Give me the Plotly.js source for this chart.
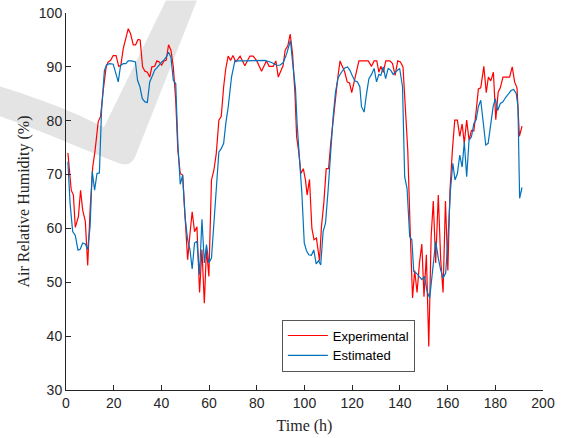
<!DOCTYPE html>
<html>
<head>
<meta charset="utf-8">
<script src="https://cdn.plot.ly/plotly-3.0.1.min.js"></script>
<style>html,body{margin:0;padding:0;background:#fff;}#chart{width:563px;height:438px;}</style>
</head>
<body>
<div id="chart"></div>
<script>
// Experimental series (time in h, relative humidity in %)
const expX = [0.8,2.2,3.1,3.9,5.2,6.1,7.0,8.1,9.1,10.1,11.2,12.2,13.5,14.5,15.6,16.8,17.7,18.7,19.8,21.0,22.1,23.0,24.0,25.1,26.1,27.1,28.2,29.2,30.2,31.1,32.1,33.1,34.1,35.1,36.0,37.2,38.1,39.1,40.1,41.1,42.0,43.0,44.0,45.0,46.0,46.9,47.9,48.9,49.9,51.0,52.0,52.9,53.9,54.9,56.0,57.0,58.0,58.9,59.9,61.0,62.0,63.0,64.1,65.1,66.1,67.0,68.0,69.0,70.0,71.2,73.0,75.0,77.1,78.5,80.0,82.0,84.0,85.2,86.9,88.0,89.0,90.0,91.0,91.9,93.0,94.0,95.0,96.0,96.7,97.5,98.5,99.5,100.4,101.1,102.1,103.1,104.0,105.0,106.3,107.1,108.1,109.1,110.1,111.0,112.0,113.0,113.9,114.9,115.9,116.9,117.9,118.9,119.8,120.8,121.8,122.8,124.6,126.7,128.1,129.2,130.3,131.2,132.0,133.0,134.1,135.8,136.9,138.0,139.1,140.2,141.3,142.3,143.3,144.3,145.3,146.2,147.2,148.2,149.2,150.1,151.1,152.1,153.1,154.0,155.0,156.1,157.1,158.1,159.1,160.1,161.0,162.0,163.0,164.1,165.1,166.1,167.0,168.0,169.0,170.0,171.0,172.0,172.9,173.9,175.2,176.2,177.1,178.1,179.2,180.2,181.2,182.1,183.2,186.0,187.1,188.1,189.1,190.1,191.2];
const expY = [74.0,67.1,66.2,60.2,62.2,67.1,63.4,61.3,53.1,63.4,71.4,74.5,79.8,80.8,85.6,89.9,90.9,91.2,92.1,92.1,90.1,90.3,93.4,95.5,97.1,96.1,94.1,94.1,95.1,95.0,90.0,89.2,89.0,88.1,90.0,90.1,91.1,90.9,90.3,91.1,91.2,94.1,93.1,90.0,83.8,74.5,70.2,69.9,63.4,54.2,59.1,63.1,59.4,60.3,48.1,56.1,46.1,56.3,51.1,69.0,70.8,73.9,80.1,80.8,86.3,89.7,92.0,91.2,92.1,90.9,92.0,90.2,92.0,92.0,91.1,89.2,91.1,90.1,90.1,91.1,88.1,89.0,90.2,93.1,93.9,96.1,92.4,85.0,77.0,74.5,70.2,71.1,69.0,66.2,69.1,60.0,57.9,58.2,54.0,60.3,64.7,71.1,71.1,75.8,80.1,83.8,87.8,91.1,90.0,89.0,87.2,87.0,85.2,87.2,89.4,91.1,91.1,91.1,90.1,91.1,91.1,89.0,90.1,89.0,91.1,91.1,90.6,88.4,91.1,90.9,90.0,81.9,74.5,59.7,47.1,52.2,48.1,53.6,57.1,47.3,55.1,38.1,58.5,65.1,53.6,66.2,54.2,48.1,65.1,52.2,67.1,74.5,80.1,80.1,77.1,79.4,75.8,80.1,76.4,78.2,78.1,81.9,85.9,86.1,90.1,85.2,88.1,87.4,89.0,80.2,85.3,86.1,88.1,88.1,90.0,87.2,86.1,77.1,79.0];

// Estimated series
const estX = [0.8,1.7,2.8,3.9,5.0,5.9,7.0,8.1,9.1,10.1,11.0,12.0,13.0,14.0,14.9,16.1,17.0,18.4,19.8,21.0,21.9,22.9,24.0,25.1,26.1,27.5,29.1,30.0,31.0,32.0,33.1,34.1,35.1,36.0,37.2,38.1,39.1,40.1,41.1,42.0,43.0,44.0,45.0,46.0,46.9,47.9,48.9,49.9,51.0,52.0,52.9,53.9,54.9,56.0,57.0,58.0,58.9,59.9,61.0,62.0,63.1,64.1,65.1,66.1,67.0,68.0,69.4,70.8,75.0,80.6,83.4,86.2,88.3,89.7,91.1,92.5,94.1,95.2,96.2,96.9,97.9,98.9,99.9,100.8,101.8,102.9,103.9,104.9,105.9,106.8,107.8,108.8,109.9,111.0,112.0,113.0,114.1,115.5,116.9,118.0,119.0,120.0,121.1,122.2,123.2,123.9,125.0,126.0,127.0,128.1,129.2,130.2,131.2,132.0,133.0,134.0,135.1,136.1,137.2,138.5,139.9,141.1,142.0,143.0,144.1,145.0,145.8,146.9,148.0,149.2,150.3,151.4,152.5,153.6,155.0,156.1,157.1,158.1,159.2,160.2,161.2,162.2,163.1,164.1,165.1,166.1,167.0,168.0,169.0,170.0,171.0,172.0,172.9,173.9,174.9,176.0,177.0,178.1,179.1,180.0,181.0,182.1,183.2,184.3,185.4,186.6,187.7,188.8,189.5,190.2,191.2];
const estY = [72.4,64.7,59.4,58.7,56.0,56.1,57.3,57.1,56.1,60.3,70.6,67.1,70.2,70.3,81.9,89.3,90.4,90.6,90.5,88.4,87.2,90.3,90.6,90.6,91.1,91.1,90.9,87.5,86.3,84.1,83.5,83.4,87.2,88.1,89.4,89.8,90.4,90.9,91.3,91.8,92.7,91.8,87.5,86.9,75.8,68.2,69.9,62.2,57.9,56.0,52.5,57.3,57.6,51.4,61.7,53.6,57.0,53.6,54.5,61.0,69.0,74.2,74.8,75.8,79.5,82.5,88.1,91.1,91.1,91.2,91.2,90.8,90.3,90.3,90.8,92.4,94.9,90.0,86.0,79.5,72.7,66.5,57.3,55.9,55.1,55.0,56.0,53.4,54.0,53.2,59.4,61.0,67.1,74.5,80.7,85.3,88.0,89.0,89.8,90.0,89.4,88.4,87.4,87.2,86.3,82.6,81.6,85.0,87.8,88.6,89.7,87.2,88.6,88.4,90.0,87.8,89.7,89.4,88.6,89.2,89.7,86.3,69.6,67.4,58.5,57.9,52.0,51.7,51.1,50.5,51.1,48.3,47.1,52.3,57.6,54.5,52.3,50.8,51.7,58.5,67.1,72.1,69.0,70.2,73.6,71.4,76.1,69.6,76.4,77.0,79.5,80.2,82.6,83.8,79.5,75.5,75.8,79.2,82.6,84.1,81.9,83.2,83.5,84.3,85.0,85.6,85.8,85.0,82.6,65.6,67.6];

const xTicks = [0,20,40,60,80,100,120,140,160,180,200];
const yTicks = [30,40,50,60,70,80,90,100];
const seriesNames = ['Experimental','Estimated'];
const xTitle = 'Time (h)';
const yTitle = 'Air Relative Humidity (%)';

// plot-area geometry (pixels) for the decorative watermark
const L = 66, T = 12.5, W = 477.3, H = 377.5;
const px = X => ((X - L) / W).toFixed(4);
const py = Y => (1 - (Y - T) / H).toFixed(4);
const P = (X, Y) => px(X) + ',' + py(Y);
const wmPath = 'M' + P(0,86) +
  ' C' + P(40,98) + ' ' + P(80,114) + ' ' + P(104,127) +
  ' L' + P(166,0) + ' L' + P(197,0) +
  ' L' + P(135,157) +
  ' Q' + P(130,167) + ' ' + P(119,163) +
  ' C' + P(80,148) + ' ' + P(40,130) + ' ' + P(0,116) + ' Z';

const axisColor = '#262626';
const tickFont = {family: 'Liberation Sans, Arial, sans-serif', size: 14, color: axisColor};
const titleFont = {family: 'Liberation Serif, Times New Roman, serif', size: 16, color: axisColor};

const data = [
  {x: expX, y: expY, type: 'scatter', mode: 'lines', name: seriesNames[0],
   line: {color: '#ff0000', width: 1.2}},
  {x: estX, y: estY, type: 'scatter', mode: 'lines', name: seriesNames[1],
   line: {color: '#0072bd', width: 1.2}}
];

const layout = {
  width: 563, height: 438,
  margin: {l: L, r: 20, t: T, b: 438 - T - H},
  paper_bgcolor: '#ffffff', plot_bgcolor: '#ffffff',
  showlegend: true,
  legend: {x: (282 - L) / W, y: 1 - (345.5 - T) / H, xanchor: 'left', yanchor: 'middle',
    itemwidth: 40,
    bgcolor: '#ffffff', bordercolor: '#555555', borderwidth: 1,
    font: {family: 'Liberation Sans, Arial, sans-serif', size: 13, color: '#000'}},
  xaxis: {range: [0, 200], tickvals: xTicks, ticktext: xTicks.map(String),
    showgrid: false, zeroline: false, showline: true, linecolor: axisColor, linewidth: 1,
    ticks: 'inside', ticklen: 5, tickcolor: axisColor, tickfont: tickFont,
    title: {text: xTitle, font: titleFont, standoff: 10}},
  yaxis: {range: [30, 100], tickvals: yTicks, ticktext: yTicks.map(String),
    showgrid: false, zeroline: false, showline: true, linecolor: axisColor, linewidth: 1,
    ticks: 'inside', ticklen: 5, tickcolor: axisColor, tickfont: tickFont,
    title: {text: yTitle, font: titleFont, standoff: 5}},
  shapes: [{type: 'path', xref: 'paper', yref: 'paper', layer: 'below',
    path: wmPath, fillcolor: '#e4e4e4', line: {width: 0}}]
};

Plotly.newPlot('chart', data, layout, {staticPlot: true, displayModeBar: false});
</script>
</body>
</html>
